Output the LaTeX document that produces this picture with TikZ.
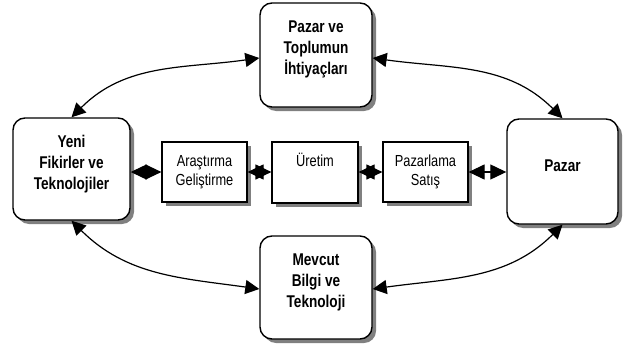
\documentclass[tikz,border=0pt]{standalone}
\usepackage{fontspec}
\setmainfont{Liberation Sans}[FakeStretch=0.8]
\usetikzlibrary{arrows.meta,shadows}
\begin{document}
\begin{tikzpicture}[x=1pt,y=1pt,
  shadowed/.style={drop shadow={shadow xshift=4pt,shadow yshift=-4pt,fill=black!50,opacity=1}},
  bigbox/.style={draw=black,line width=1.4pt,rounded corners=12pt,fill=white,shadowed,
     align=center,font=\bfseries\fontsize{17}{21}\selectfont,text depth=14pt,inner sep=0pt},
  smallbox/.style={draw=black,line width=1.2pt,fill=white,shadowed,minimum width=85pt,minimum height=60pt,
     align=center,font=\fontsize{16}{19.5}\selectfont,inner sep=0pt},
  arc/.style={line width=1.2pt,{Triangle[length=14pt,width=14pt]}-{Triangle[length=14pt,width=14pt]}},
  link/.style={line width=1.2pt,{Triangle[length=16pt,width=15pt]}-{Triangle[length=16pt,width=15pt]}}
]
\useasboundingbox (0,0) rectangle (631,349);
\node[bigbox,minimum width=117pt,minimum height=102pt] (L) at (71.5,180) {Yeni\\Fikirler ve\\Teknolojiler};
\node[bigbox,minimum width=112pt,minimum height=104pt] (T) at (316,294) {Pazar ve\\Toplumun\\İhtiyaçları};
\node[bigbox,minimum width=111pt,minimum height=105pt,text depth=12pt] (R) at (562.5,177.5) {Pazar};
\node[bigbox,minimum width=112pt,minimum height=103pt] (B) at (316,61.5) {Mevcut\\Bilgi ve\\Teknoloji};
\node[smallbox] (A) at (204.5,177) {Araştırma\\Geliştirme};
\node[smallbox,minimum width=86pt,minimum height=61pt] (U) at (315,176.5) {Üretim\\\strut};
\node[smallbox] (P) at (425.5,177) {Pazarlama\\Satış};
\draw[link] (L.east |- A.west) -- (A.west);
\draw[link] (A.east) -- (A.east -| U.west);
\draw[link] (U.east |- P.west) -- (P.west);
\draw[link] (P.east) -- (P.east -| R.west);
\draw[arc] (L.north) to[out=45,in=188] ([yshift=-3pt]T.west);
\draw[arc] ([yshift=-3pt]T.east) to[out=-8,in=135] (R.north);
\draw[arc] (L.south) to[out=-45,in=172] ([yshift=-1.5pt]B.west);
\draw[arc] ([yshift=-1.5pt]B.east) to[out=8,in=-135] (R.south);
\end{tikzpicture}
\end{document}
